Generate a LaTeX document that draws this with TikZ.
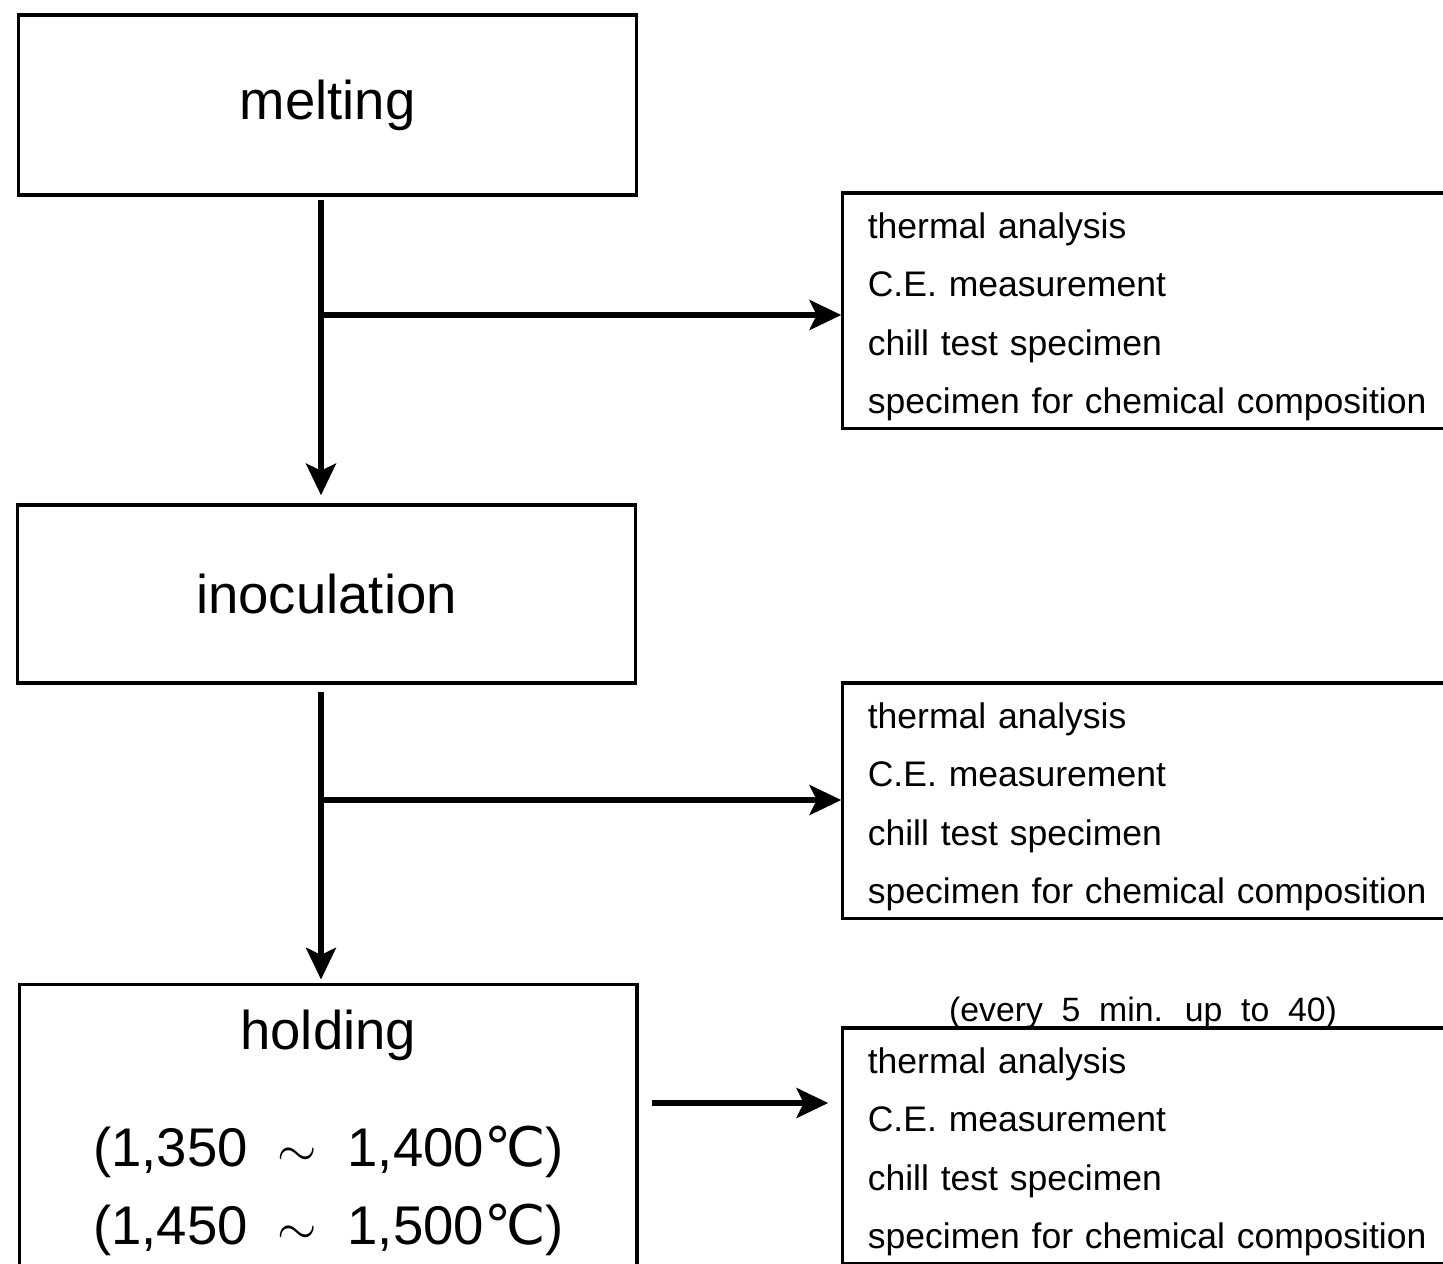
\documentclass[tikz,border=0pt]{standalone}
\usepackage{fontspec}
\setmainfont{Liberation Sans}[WordSpace=2]
\newfontfamily\degfont{DejaVu Sans}
\usetikzlibrary{arrows.meta,positioning}
\tikzset{
	stage/.style={draw,line width=0.9pt,align=center,font=\fontsize{15.5}{22}\selectfont,minimum width=6.17cm,inner sep=0pt},
	testbox/.style={draw,line width=0.9pt,align=left,font=\fontsize{10.1}{16.6}\selectfont,minimum height=2.35cm,text width=5.7cm,inner xsep=0.25cm,inner ysep=0pt},
	note/.style={font=\fontsize{9.6}{12}\selectfont,inner sep=0pt},
	arr/.style={-{Stealth[length=9pt,width=8.5pt,inset=2pt]},line width=1.6pt}
}

\begin{document}
\begin{tikzpicture}[x=0.01cm,y=-0.01cm]
		\useasboundingbox (0,0) rectangle (1443,1263);
		\node[stage,minimum height=1.8cm] (melt) at (327.5,105) {melting};
		\node[stage,minimum height=1.78cm] (inoc) at (326.5,594) {inoculation};
		\node[stage,minimum height=2.96cm,anchor=north west] (hold) at (18,983) {holding\\[11.4pt](1,350 $\sim$ 1,400{\degfont ℃})\\(1,450 $\sim$ 1,500{\degfont ℃})};
		% three identical sampling boxes
		\foreach \i/\y in {1/310.5,2/800.5,3/1145.5}
			\node[testbox] (test\i) at (1153,\y) {\rule{0pt}{10.8pt}thermal analysis\\C.E. measurement\\chill test specimen\\specimen for chemical composition};
		\node[note,above=-0.03cm of test3,xshift=-0.1cm] (every) {(every 5 min. up to 40)};
		\draw[arr,shorten <=1pt,shorten >=2.3pt] ([xshift=-0.065cm]melt.south) -- ([xshift=-0.065cm]melt.south |- inoc.north);
		\draw[arr,shorten <=2pt,shorten >=1pt] ([xshift=-0.055cm]inoc.south) -- ([xshift=-0.055cm]inoc.south |- hold.north);
		\coordinate (br1) at ([xshift=-0.065cm]melt.south |- 0,315);
		\coordinate (br2) at ([xshift=-0.055cm]inoc.south |- 0,800);
		\draw[arr] (br1) -- (br1 -| test1.west);
		\draw[arr] (br2) -- (br2 -| test2.west);
		\coordinate (hs) at (0,1103);
		\draw[arr,shorten <=3.7pt,shorten >=3.7pt] (hold.east |- hs) -- (test3.west |- hs);
	\end{tikzpicture}
\end{document}
